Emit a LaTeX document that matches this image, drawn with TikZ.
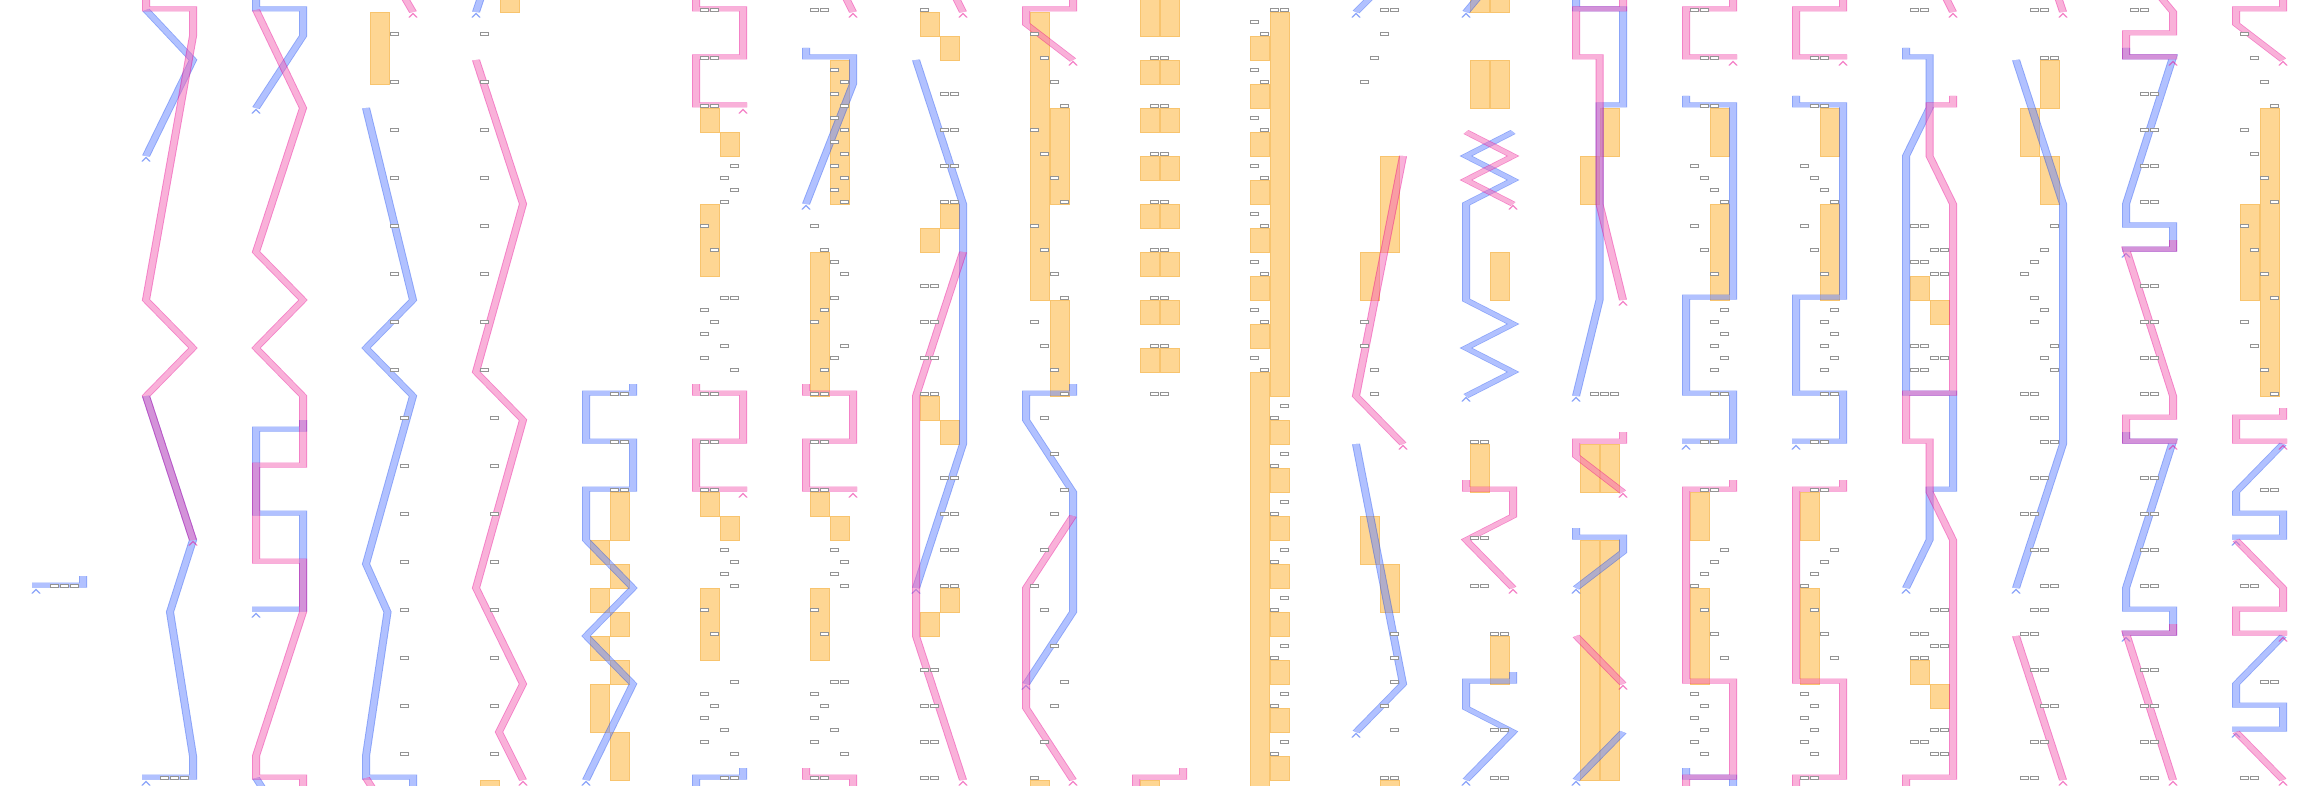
\documentclass[tikz,border=0pt]{standalone}
\definecolor{blB}{RGB}{25,75,245}
\definecolor{blF}{RGB}{101,133,255}
\definecolor{pkB}{RGB}{235,5,145}
\definecolor{pkF}{RGB}{245,101,181}
\definecolor{orF}{RGB}{254,214,147}
\definecolor{orB}{RGB}{248,196,110}
\tikzset{
  blo/.style={draw=blB, line width=8pt, line join=miter, line cap=butt},
  bli/.style={draw=blF, line width=6pt, line join=miter, line cap=butt},
  pko/.style={draw=pkB, line width=8pt, line join=miter, line cap=butt},
  pki/.style={draw=pkF, line width=6pt, line join=miter, line cap=butt},
  orng/.style={fill=orF, draw=orB, line width=0.8pt},
  tbox/.style={draw=black!42, fill=white, line width=0.7pt},
  chv/.style={line width=1.4pt, line join=miter},
  squash/.style={transform canvas={yscale=0.625}, y={(0pt,-1.6pt)}}
}
\newcommand\bpath[1]{\draw[blo] #1; \draw[bli] #1;}
\newcommand\ppath[1]{\draw[pko] #1; \draw[pki] #1;}
\newcommand\chevr[3]{\draw[chv, draw=#1] ({#2-4},{#3+5.5}) -- (#2,{#3+1.5}) -- ({#2+4},{#3+5.5});}
\newcommand\oc[4]{\draw[orng] ({32+110*#1+8.5+20*(#2-1)},#3) rectangle ({32+110*#1+27.5+20*(#2-1)},#4);}
\newcommand\tb[3]{\draw[tbox] ({32+110*#1+8+10*(#2-1)},{#3-1.2}) rectangle ++(8.5,2.4);}
\begin{document}
\begin{tikzpicture}[x=1pt,y=-1pt]
\fill[white] (0,0) rectangle (2320,786);
% ---------------- orange cells ----------------
\oc{3}{1}{12}{84}
\oc{4}{2}{-1}{12} \oc{4}{1}{780}{790}
\oc{5}{2}{492}{540}\oc{5}{1}{540}{564}\oc{5}{2}{564}{588}\oc{5}{1}{588}{612}\oc{5}{2}{612}{636}\oc{5}{1}{636}{660}\oc{5}{2}{660}{684}\oc{5}{1}{684}{732}\oc{5}{2}{732}{780}
\oc{6}{1}{108}{132}\oc{6}{2}{132}{156}\oc{6}{1}{204}{276}\oc{6}{1}{492}{516}\oc{6}{2}{516}{540}\oc{6}{1}{588}{660}
\oc{7}{2}{60}{204}\oc{7}{1}{252}{396}\oc{7}{1}{492}{516}\oc{7}{2}{516}{540}\oc{7}{1}{588}{660}
\oc{8}{1}{12}{36}\oc{8}{2}{36}{60}\oc{8}{2}{204}{228}\oc{8}{1}{228}{252}\oc{8}{1}{396}{420}\oc{8}{2}{420}{444}\oc{8}{2}{588}{612}\oc{8}{1}{612}{636}
\oc{9}{1}{12}{300}\oc{9}{2}{108}{204}\oc{9}{2}{300}{396}\oc{9}{1}{780}{790}
\foreach \a/\b in {-1/36,60/84,108/132,156/180,204/228,252/276,300/324,348/372}{\oc{10}{1}{\a}{\b}\oc{10}{2}{\a}{\b}}
\oc{10}{1}{780}{790}
\oc{11}{2}{12}{396}\oc{11}{1}{372}{790}
\foreach \a in {36,84,...,324}{\oc{11}{1}{\a}{\a+24}}
\foreach \a in {420,468,...,756}{\oc{11}{2}{\a}{\a+24}}
\oc{12}{2}{156}{252}\oc{12}{1}{252}{300}\oc{12}{1}{516}{564}\oc{12}{2}{564}{612}\oc{12}{2}{780}{790}
\oc{13}{1}{-1}{12}\oc{13}{2}{-1}{12}\oc{13}{1}{60}{108}\oc{13}{2}{60}{108}\oc{13}{2}{252}{300}\oc{13}{1}{444}{492}\oc{13}{2}{636}{684}
\oc{14}{2}{108}{156}\oc{14}{1}{156}{204}\oc{14}{1}{444}{492}\oc{14}{2}{444}{492}\oc{14}{1}{540}{780}\oc{14}{2}{540}{780}
\oc{15}{2}{108}{156}\oc{15}{2}{204}{300}\oc{15}{1}{492}{540}\oc{15}{1}{588}{684}
\oc{16}{2}{108}{156}\oc{16}{2}{204}{300}\oc{16}{1}{492}{540}\oc{16}{1}{588}{684}
\oc{17}{1}{276}{300}\oc{17}{2}{300}{324}\oc{17}{1}{660}{684}\oc{17}{2}{684}{708}
\oc{18}{2}{60}{108}\oc{18}{1}{108}{156}\oc{18}{2}{156}{204}
\oc{20}{2}{108}{396}\oc{20}{1}{204}{300}
% ---------------- blue pipes ----------------
\begin{scope}[transparency group, opacity=0.5]
\begin{scope}[squash]
 \begin{scope}[xshift=32pt]\bpath{(51,576) -- (51,585) -- (0,585)}\chevr{blB}{4}{588}\end{scope}
 \begin{scope}[xshift=142pt]
  \bpath{(4,10) -- (51,60) -- (4,156)}\chevr{blB}{4}{156}
  \bpath{(4,396) -- (51,540) -- (28,612) -- (51,756) -- (51,777) -- (0,777)}\chevr{blB}{4}{780}
 \end{scope}
 \begin{scope}[xshift=252pt]
  \bpath{(4,-6) -- (4,9) -- (51,9) -- (51,36) -- (4,108)}\chevr{blB}{4}{108}
  \bpath{(51,420) -- (51,429) -- (4,429) -- (4,513) -- (51,513) -- (51,609) -- (0,609)}\chevr{blB}{4}{612}
  \bpath{(4,778) -- (18,800)}
 \end{scope}
 \begin{scope}[xshift=362pt]
  \bpath{(4,108) -- (51,300) -- (4,348) -- (51,396) -- (4,564) -- (25.5,612) -- (4,756) -- (4,777) -- (51,777) -- (51,792)}
 \end{scope}
 \begin{scope}[xshift=472pt]\bpath{(10,-6) -- (4,12)}\chevr{blB}{4}{12}\end{scope}
 \begin{scope}[xshift=582pt]
  \bpath{(51,384) -- (51,393) -- (4,393) -- (4,441) -- (51,441) -- (51,489) -- (4,489) -- (4,540) -- (51,588) -- (4,636) -- (51,684) -- (4,780)}\chevr{blB}{4}{780}
 \end{scope}
 \begin{scope}[xshift=692pt]\bpath{(51,768) -- (51,777) -- (4,777) -- (4,792)}\end{scope}
 \begin{scope}[xshift=802pt]\bpath{(4,48) -- (4,57) -- (51,57) -- (51,84) -- (4,204)}\chevr{blB}{4}{204}\end{scope}
 \begin{scope}[xshift=912pt]\bpath{(4,60) -- (51,204) -- (51,444) -- (4,588)}\chevr{blB}{4}{588}\end{scope}
 \begin{scope}[xshift=1022pt]\bpath{(51,384) -- (51,393) -- (4,393) -- (4,420) -- (51,492) -- (51,612) -- (4,684)}\chevr{blB}{4}{684}\end{scope}
 \begin{scope}[xshift=1352pt]
  \bpath{(22,-6) -- (4,12)}\chevr{blB}{4}{12}
  \bpath{(4,444) -- (51,684) -- (4,732)}\chevr{blB}{4}{732}
 \end{scope}
 \begin{scope}[xshift=1462pt]
  \bpath{(19,-6) -- (4,12)}\chevr{blB}{4}{12}
  \bpath{(51,132) -- (4,156) -- (51,180) -- (4,204) -- (4,300) -- (51,324) -- (4,348) -- (51,372) -- (4,396)}\chevr{blB}{4}{396}
  \bpath{(51,672) -- (51,681) -- (4,681) -- (4,708) -- (51,732) -- (4,780)}\chevr{blB}{4}{780}
 \end{scope}
 \begin{scope}[xshift=1572pt]
  \bpath{(4,-6) -- (4,9) -- (51,9) -- (51,105) -- (27.5,105) -- (27.5,300) -- (4,396)}\chevr{blB}{4}{396}
  \bpath{(4,528) -- (4,537) -- (51,537) -- (51,552) -- (4,588)}\chevr{blB}{4}{588}
  \bpath{(51,732) -- (4,780)}\chevr{blB}{4}{780}
 \end{scope}
 \begin{scope}[xshift=1682pt]
  \bpath{(4,96) -- (4,105) -- (51,105) -- (51,297) -- (4,297) -- (4,393) -- (51,393) -- (51,441) -- (0,441)}\chevr{blB}{4}{444}
  \bpath{(4,768) -- (4,777) -- (51,777) -- (51,792)}
 \end{scope}
 \begin{scope}[xshift=1792pt]
  \bpath{(4,96) -- (4,105) -- (51,105) -- (51,297) -- (4,297) -- (4,393) -- (51,393) -- (51,441) -- (0,441)}\chevr{blB}{4}{444}
 \end{scope}
 \begin{scope}[xshift=1902pt]
  \bpath{(4,48) -- (4,57) -- (27.5,57) -- (27.5,108) -- (4,156) -- (4,393) -- (51,393) -- (51,489) -- (27.5,489) -- (27.5,540) -- (4,588)}\chevr{blB}{4}{588}
 \end{scope}
 \begin{scope}[xshift=2012pt]\bpath{(4,60) -- (51,204) -- (51,444) -- (4,588)}\chevr{blB}{4}{588}\end{scope}
 \begin{scope}[xshift=2122pt]
  \bpath{(4,48) -- (4,57) -- (51,57) -- (4,204) -- (4,225) -- (51,225) -- (51,249) -- (0,249)}\chevr{blB}{4}{252}
  \bpath{(4,432) -- (4,441) -- (51,441) -- (4,588) -- (4,609) -- (51,609) -- (51,633) -- (0,633)}\chevr{blB}{4}{636}
 \end{scope}
 \begin{scope}[xshift=2232pt]
  \bpath{(51,444) -- (4,492) -- (4,513) -- (51,513) -- (51,537) -- (0,537)}\chevr{blB}{4}{540}
  \bpath{(51,636) -- (4,684) -- (4,705) -- (51,705) -- (51,729) -- (0,729)}\chevr{blB}{4}{732}
 \end{scope}
\end{scope}
\end{scope}
% ---------------- pink pipes ----------------
\begin{scope}[transparency group, opacity=0.5]
\begin{scope}[squash]
 \begin{scope}[xshift=142pt]
  \ppath{(4,-6) -- (4,9) -- (51,9) -- (51,36) -- (4,300) -- (51,348) -- (4,396) -- (51,540)}\chevr{pkB}{51}{540}
 \end{scope}
 \begin{scope}[xshift=252pt]
  \ppath{(4,10) -- (51,108) -- (4,252) -- (51,300) -- (4,348) -- (51,396) -- (51,465) -- (4,465) -- (4,561) -- (51,561) -- (51,612) -- (4,756) -- (4,777) -- (51,777) -- (51,792)}
 \end{scope}
 \begin{scope}[xshift=362pt]
  \ppath{(40.5,-6) -- (51,12)}\chevr{pkB}{51}{12}
  \ppath{(4,778) -- (18,800)}
 \end{scope}
 \begin{scope}[xshift=472pt]
  \ppath{(4,60) -- (51,204) -- (4,372) -- (51,420) -- (4,588) -- (51,684) -- (27,732) -- (51,780)}\chevr{pkB}{51}{780}
 \end{scope}
 \begin{scope}[xshift=692pt]
  \ppath{(4,-6) -- (4,9) -- (51,9) -- (51,57) -- (4,57) -- (4,105) -- (55,105)}\chevr{pkB}{51}{108}
  \ppath{(4,384) -- (4,393) -- (51,393) -- (51,441) -- (4,441) -- (4,489) -- (55,489)}\chevr{pkB}{51}{492}
 \end{scope}
 \begin{scope}[xshift=802pt]
  \ppath{(42,-6) -- (51,12)}\chevr{pkB}{51}{12}
  \ppath{(4,384) -- (4,393) -- (51,393) -- (51,441) -- (4,441) -- (4,489) -- (55,489)}\chevr{pkB}{51}{492}
  \ppath{(4,768) -- (4,777) -- (51,777) -- (51,792)}
 \end{scope}
 \begin{scope}[xshift=912pt]
  \ppath{(42,-6) -- (51,12)}\chevr{pkB}{51}{12}
  \ppath{(51,252) -- (4,396) -- (4,636) -- (51,780)}\chevr{pkB}{51}{780}
 \end{scope}
 \begin{scope}[xshift=1022pt]
  \ppath{(51,-6) -- (51,9) -- (4,9) -- (4,24) -- (51,60)}\chevr{pkB}{51}{60}
  \ppath{(51,516) -- (4,588) -- (4,708) -- (51,780)}\chevr{pkB}{51}{780}
 \end{scope}
 \begin{scope}[xshift=1132pt]\ppath{(51,768) -- (51,777) -- (4,777) -- (4,792)}\end{scope}
 \begin{scope}[xshift=1352pt]\ppath{(51,156) -- (4,396) -- (51,444)}\chevr{pkB}{51}{444}\end{scope}
 \begin{scope}[xshift=1462pt]
  \ppath{(4,132) -- (51,156) -- (4,180) -- (51,204)}\chevr{pkB}{51}{204}
  \ppath{(4,480) -- (4,489) -- (51,489) -- (51,516) -- (4,540) -- (51,588)}\chevr{pkB}{51}{588}
 \end{scope}
 \begin{scope}[xshift=1572pt]
  \ppath{(51,-6) -- (51,9) -- (4,9) -- (4,57) -- (27.5,57) -- (27.5,204) -- (51,300)}\chevr{pkB}{51}{300}
  \ppath{(51,432) -- (51,441) -- (4,441) -- (4,456) -- (51,492)}\chevr{pkB}{51}{492}
  \ppath{(4,636) -- (51,684)}\chevr{pkB}{51}{684}
 \end{scope}
 \begin{scope}[xshift=1682pt]
  \ppath{(51,-6) -- (51,9) -- (4,9) -- (4,57) -- (55,57)}\chevr{pkB}{51}{60}
  \ppath{(51,480) -- (51,489) -- (4,489) -- (4,681) -- (51,681) -- (51,777) -- (4,777) -- (4,792)}
 \end{scope}
 \begin{scope}[xshift=1792pt]
  \ppath{(51,-6) -- (51,9) -- (4,9) -- (4,57) -- (55,57)}\chevr{pkB}{51}{60}
  \ppath{(51,480) -- (51,489) -- (4,489) -- (4,681) -- (51,681) -- (51,777) -- (4,777) -- (4,792)}
 \end{scope}
 \begin{scope}[xshift=1902pt]
  \ppath{(42,-6) -- (51,12)}\chevr{pkB}{51}{12}
  \ppath{(51,96) -- (51,105) -- (27.5,105) -- (27.5,156) -- (51,204) -- (51,393) -- (4,393) -- (4,441) -- (27.5,441) -- (27.5,492) -- (51,540) -- (51,777) -- (4,777) -- (4,792)}
 \end{scope}
 \begin{scope}[xshift=2012pt]
  \ppath{(45,-6) -- (51,12)}\chevr{pkB}{51}{12}
  \ppath{(4,636) -- (51,780)}\chevr{pkB}{51}{780}
 \end{scope}
 \begin{scope}[xshift=2122pt]
  \ppath{(36,-6) -- (51,12) -- (51,33) -- (4,33) -- (4,57) -- (55,57)}\chevr{pkB}{51}{60}
  \ppath{(51,240) -- (51,249) -- (4,249) -- (51,396) -- (51,417) -- (4,417) -- (4,441) -- (55,441)}\chevr{pkB}{51}{444}
  \ppath{(51,624) -- (51,633) -- (4,633) -- (51,780)}\chevr{pkB}{51}{780}
 \end{scope}
 \begin{scope}[xshift=2232pt]
  \ppath{(51,-6) -- (51,9) -- (4,9) -- (4,24) -- (51,60)}\chevr{pkB}{51}{60}
  \ppath{(51,408) -- (51,417) -- (4,417) -- (4,441) -- (55,441)}\chevr{pkB}{51}{444}
  \ppath{(4,540) -- (51,588) -- (51,609) -- (4,609) -- (4,633) -- (55,633)}\chevr{pkB}{51}{636}
  \ppath{(4,732) -- (51,780)}\chevr{pkB}{51}{780}
 \end{scope}
\end{scope}
\end{scope}
% ---------------- tiny labels ----------------
\foreach \s in {2,3,4}{\tb{0}{\s}{586}\tb{1}{\s}{778}\tb{14}{\s}{394}}
\foreach \y in {34,82,...,370}{\tb{3}{3}{\y}\tb{4}{1}{\y}}
\foreach \y in {418,466,...,754}{\tb{3}{4}{\y}\tb{4}{2}{\y}}
\foreach \y in {394,442,490}{\tb{5}{3}{\y}\tb{5}{4}{\y}}
\foreach \s/\y in {1/10,2/10,1/58,2/58,1/106,2/106,4/166,3/178,4/190,3/202,1/226,2/250,3/298,4/298,1/310,2/322,1/334,3/346,1/358,4/370,1/394,2/394,1/442,2/442,1/490,2/490,3/550,4/562,3/574,4/586,1/610,2/634,4/682,1/694,2/706,1/718,3/730,1/742,4/754,3/778,4/778}{\tb{6}{\s}{\y}}
\foreach \s/\y in {1/10,2/10,3/70,4/82,3/94,4/106,3/118,4/130,3/142,4/154,3/166,4/178,3/190,4/202,1/226,2/250,3/262,4/274,3/298,2/310,1/322,4/346,3/358,2/370,1/394,2/394,1/442,2/442,1/490,2/490,3/550,4/562,3/574,4/586,1/610,2/634,3/682,4/682,1/694,2/706,1/718,3/730,1/742,4/754,1/778,2/778}{\tb{7}{\s}{\y}}
\tb{8}{1}{10}
\foreach \y in {94,130,166,202,478,514,550,586}{\tb{8}{3}{\y}\tb{8}{4}{\y}}
\foreach \y in {286,322,358,394,670,706,742,778}{\tb{8}{1}{\y}\tb{8}{2}{\y}}
\foreach \s/\y in {1/34,2/58,3/82,4/106,1/130,2/154,3/178,4/202,1/226,2/250,3/274,4/298,1/322,2/346,3/370,4/394,2/418,3/454,4/490,3/514,2/550,1/586,2/610,3/646,4/682,3/706,2/742,1/778}{\tb{9}{\s}{\y}}
\foreach \y in {58,106,...,394}{\tb{10}{2}{\y}\tb{10}{3}{\y}}
\tb{11}{3}{10}\tb{11}{4}{10}
\foreach \y in {22,70,...,358}{\tb{11}{1}{\y}\tb{11}{2}{\y+12}}
\foreach \y in {406,454,...,742}{\tb{11}{4}{\y}\tb{11}{3}{\y+12}}
\foreach \s/\y in {3/10,4/10,3/34,2/58,1/82,1/322,1/346,2/370,2/394,4/634,4/658,4/682,3/706,4/730,3/778,4/778}{\tb{12}{\s}{\y}}
\foreach \s/\y in {1/442,2/442,1/538,2/538,1/586,2/586,3/634,4/634,3/730,4/730,3/778,4/778}{\tb{13}{\s}{\y}}
\foreach \c in {15,16}{
 \foreach \s/\y in {2/58,3/58,2/106,3/106,1/166,2/178,3/190,4/202,1/226,2/250,3/274,4/310,3/322,4/334,3/346,4/358,3/370,3/394,4/394,2/442,3/442,2/490,3/490,4/550,3/562,2/574,1/586,2/610,3/634,4/658,1/694,2/706,1/718,2/730,1/742,2/754}{\tb{\c}{\s}{\y}}}
\tb{15}{1}{10}\tb{15}{2}{10}\tb{16}{1}{778}\tb{16}{2}{778}
\foreach \s/\y in {1/10,2/10,1/226,2/226,3/250,4/250,1/262,2/262,3/274,4/274,1/346,2/346,3/358,4/358,1/370,2/370,3/610,4/610,1/634,2/634,3/646,4/646,1/658,2/658,3/730,4/730,1/742,2/742,3/754,4/754}{\tb{17}{\s}{\y}}
\foreach \s/\y in {2/10,3/10,3/58,4/58,4/226,3/250,2/262,1/274,2/298,3/310,2/322,4/346,3/358,4/370,1/394,2/394,2/418,3/418,3/442,4/442,2/478,3/478,1/514,2/514,2/550,3/550,3/586,4/586,2/610,3/610,1/634,2/634,2/670,3/670,3/706,4/706,2/742,3/742,1/778,2/778}{\tb{18}{\s}{\y}}
\tb{19}{1}{10}\tb{19}{2}{10}
\foreach \y in {94,130,166,202,286,322,358,394,478,514,550,586,670,706,742,778}{\tb{19}{2}{\y}\tb{19}{3}{\y}}
\foreach \s/\y in {1/34,2/58,3/82,4/106,1/130,2/154,3/178,4/202,1/226,2/250,3/274,4/298,1/322,2/346,3/370,4/394,3/490,4/490,1/586,2/586,3/682,4/682,1/778,2/778}{\tb{20}{\s}{\y}}
\pgfresetboundingbox
\useasboundingbox (0,0) rectangle (2320,786);
\end{tikzpicture}
\end{document}
